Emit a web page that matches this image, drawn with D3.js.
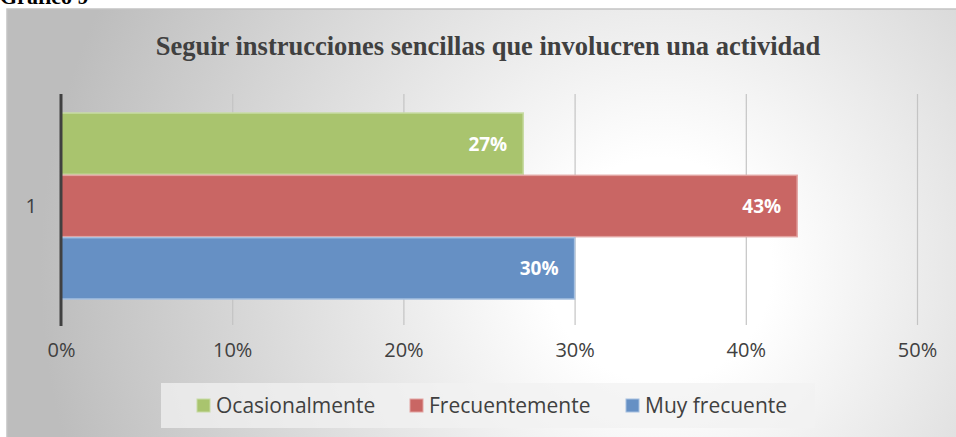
<!DOCTYPE html>
<html>
<head>
<meta charset="utf-8">
<script src="https://cdn.jsdelivr.net/npm/d3@7"></script>
<style>
  body { margin: 0; background: #fff; }
  svg { display: block; }
</style>
</head>
<body>
<div id="chart"></div>
<script>
const categories = ["1"];
const series = ["Ocasionalmente", "Frecuentemente", "Muy frecuente"];
const values = [27, 43, 30];
const colors = ["#a9c46e", "#c96664", "#6690c4"];
const strokes = ["#c8dba5", "#e2a3a1", "#a6c0e0"];
const ticks = [0, 10, 20, 30, 40, 50];

const width = 956, height = 437;
const svg = d3.select("#chart").append("svg")
    .attr("width", width)
    .attr("height", height);

const defs = svg.append("defs");
const grad = defs.append("radialGradient")
    .attr("id", "bg")
    .attr("gradientUnits", "userSpaceOnUse")
    .attr("cx", 660).attr("cy", 270).attr("r", 620);
grad.append("stop").attr("offset", "0").attr("stop-color", "#ffffff");
grad.append("stop").attr("offset", "0.18").attr("stop-color", "#ffffff");
grad.append("stop").attr("offset", "1").attr("stop-color", "#bdbdbd");

// caption above the chart (cut off in the original)
svg.append("text")
    .attr("x", 0).attr("y", 4)
    .attr("font-family", "Liberation Serif, Times New Roman, serif")
    .attr("font-weight", "bold")
    .attr("font-size", 22)
    .attr("fill", "#000")
    .text("Gráfico 9");

svg.append("rect")
    .attr("x", 7).attr("y", 9)
    .attr("width", 960).attr("height", 440)
    .attr("fill", "url(#bg)")
    .attr("stroke", "#c4c4c4")
    .attr("stroke-width", 1.5);

svg.append("text")
    .attr("x", 488).attr("y", 55)
    .attr("text-anchor", "middle")
    .attr("font-family", "Liberation Serif, Times New Roman, serif")
    .attr("font-weight", "bold")
    .attr("font-size", 26.5)
    .attr("fill", "#404040")
    .text("Seguir instrucciones sencillas que involucren una actividad");

const x = d3.scaleLinear().domain([0, 50]).range([61, 917]);
const y = d3.scaleBand().domain(categories).range([94, 320]);
const ys = d3.scaleBand().domain(series).range([y("1") + 19, y("1") + 19 + 187]);

// gridlines + axis
const xAxis = d3.axisBottom(x)
    .tickValues(ticks)
    .tickSize(-(325 - 94))
    .tickPadding(18)
    .tickFormat(d => d + "%");
const gx = svg.append("g")
    .attr("transform", "translate(0,325)")
    .call(xAxis);
gx.select(".domain").remove();
gx.selectAll(".tick line").attr("stroke", "#c4c4c4").attr("stroke-width", 1.2);
gx.selectAll(".tick text")
    .attr("font-family", "Open Sans, Noto Sans, sans-serif")
    .attr("font-size", 20)
    .attr("fill", "#404040");

// bars
const bars = svg.append("g").selectAll("g")
    .data(series)
    .join("g");
bars.append("rect")
    .attr("x", x(0))
    .attr("y", d => ys(d))
    .attr("width", (d, i) => x(values[i]) - x(0))
    .attr("height", ys.bandwidth() - 1)
    .attr("fill", (d, i) => colors[i])
    .attr("stroke", (d, i) => strokes[i])
    .attr("stroke-width", 1.5);
bars.append("text")
    .attr("x", (d, i) => x(values[i]) - 16)
    .attr("y", d => ys(d) + ys.bandwidth() / 2)
    .attr("dy", "0.35em")
    .attr("text-anchor", "end")
    .attr("font-family", "Open Sans, Noto Sans, sans-serif")
    .attr("font-weight", "bold")
    .attr("font-size", 19)
    .attr("fill", "#fff")
    .text((d, i) => values[i] + "%");

// vertical axis line
const yAxis = d3.axisLeft(y).tickSize(0).tickPadding(24);
const gy = svg.append("g")
    .attr("transform", `translate(${x(0)},0)`)
    .call(yAxis);
gy.select(".domain").remove();
gy.selectAll(".tick text")
    .attr("font-family", "Open Sans, Noto Sans, sans-serif")
    .attr("font-size", 20)
    .attr("fill", "#404040");
svg.append("line")
    .attr("x1", x(0)).attr("x2", x(0))
    .attr("y1", 94).attr("y2", 326)
    .attr("stroke", "#404040")
    .attr("stroke-width", 3);

// legend
const legend = svg.append("g");
legend.append("rect")
    .attr("x", 161).attr("y", 383)
    .attr("width", 654).attr("height", 45)
    .attr("fill", "#f2f2f2")
    .attr("fill-opacity", 0.75);
const lx = [197, 410, 626];
const item = legend.selectAll("g.item")
    .data(series)
    .join("g")
    .attr("class", "item")
    .attr("transform", (d, i) => `translate(${lx[i]},399)`);
item.append("rect")
    .attr("width", 13).attr("height", 13)
    .attr("fill", (d, i) => colors[i])
    .attr("stroke", (d, i) => strokes[i]);
item.append("text")
    .attr("x", 19).attr("y", 7)
    .attr("dy", "0.35em")
    .attr("font-family", "Open Sans, Noto Sans, sans-serif")
    .attr("font-size", 21)
    .attr("fill", "#404040")
    .text(d => d);
</script>
</body>
</html>
